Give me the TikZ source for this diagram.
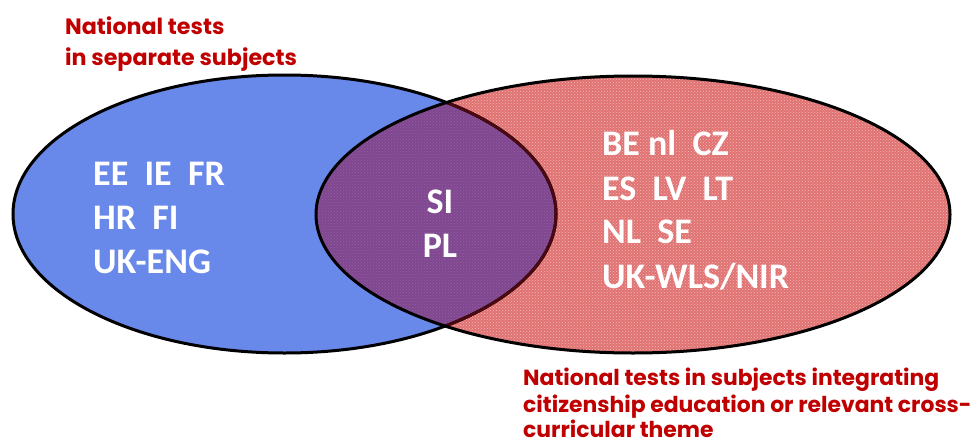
\documentclass[tikz,border=0pt]{standalone}
\usepackage{fontspec}
\newfontfamily\labfont{Poppins}
\newfontfamily\codefont{Carlito}
\usetikzlibrary{patterns}
\definecolor{blueset}{HTML}{6889EA}
\definecolor{redset}{HTML}{E07272}
\definecolor{redsetdot}{HTML}{F4B8B8}
\definecolor{overlapcol}{HTML}{7E4890}
\definecolor{overlapdot}{HTML}{9C5C9E}
\definecolor{labred}{HTML}{C00000}
\definecolor{darkedge}{HTML}{4A0810}
\begin{document}
\begin{tikzpicture}[x=1pt,y=-1pt,
  edge/.style={line width=3pt},
  toplab/.style={anchor=base west,inner sep=0pt,text=labred,font=\labfont\bfseries\fontsize{22.2}{26}\selectfont},
  botlab/.style={anchor=base west,inner sep=0pt,text=labred,font=\labfont\bfseries\fontsize{21.9}{26}\selectfont},
  code/.style={anchor=base west,inner sep=0pt,text=white,font=\codefont\bfseries\fontsize{36}{44}\selectfont},
  codec/.style={anchor=base,inner sep=0pt,text=white,font=\codefont\bfseries\fontsize{36}{44}\selectfont}]
\useasboundingbox (0,0) rectangle (979,444);
\coordinate (bc) at (284.5,214);
\coordinate (rc) at (633,214.5);
\def\blueell{(bc) ellipse [x radius=271.5, y radius=139]}
\def\redell{(rc) ellipse [x radius=317, y radius=138.5]}
% fills
\fill[blueset] \blueell;
\fill[redset] \redell;
\fill[pattern=crosshatch dots, pattern color=redsetdot] \redell;
\begin{scope}
  \clip \blueell;
  \fill[overlapcol] \redell;
  \fill[pattern=crosshatch dots, pattern color=overlapdot] \redell;
\end{scope}
% outlines
\draw[edge] \blueell;
\begin{scope}
  \clip \redell;
  \draw[edge, darkedge] \blueell;
\end{scope}
\draw[edge] \redell;
% labels
\node[toplab] (t1) at (65,35) {National tests};
\node[toplab] (t2) at (65,65) {in separate subjects};
\node[botlab] (b1) at (523,385) {National tests in subjects integrating};
\node[botlab] (b2) at (523,412.5) {citizenship education or relevant cross-};
\node[botlab] (b3) at (523,437.5) {curricular theme};
% codes
\node[code] (l1) at (93,185) {EE\ \ IE\ \ FR};
\node[code] (l2) at (93,229) {HR\ \ FI};
\node[code] (l3) at (93,273) {UK-ENG};
\node[codec] (m1) at (440,213) {SI};
\node[codec] (m2) at (440,257) {PL};
\node[code] (r1) at (602,155) {BE nl\ \ CZ};
\node[code] (r2) at (602,200) {ES\ \ LV\ \ LT};
\node[code] (r3) at (602,243) {NL\ \ SE};
\node[code] (r4) at (602,288) {UK-WLS/NIR};
\end{tikzpicture}
\end{document}
